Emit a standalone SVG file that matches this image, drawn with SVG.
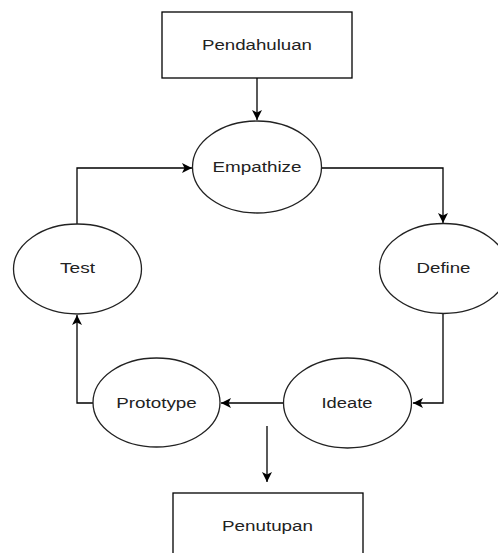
<svg xmlns="http://www.w3.org/2000/svg" width="498" height="553" viewBox="0 0 498 553">
<style>
.box{fill:#fff;stroke:#000;stroke-width:1.3}
.ell{fill:#fff;stroke:#222;stroke-width:1.3}
.lbl{font-family:"Liberation Sans",Arial,sans-serif;font-size:14px;fill:#222;text-anchor:middle}
.edge{fill:none;stroke:#000;stroke-width:1.3}
</style>
<defs>
<marker id="arr" viewBox="0 0 10 10" refX="10" refY="5" markerWidth="10" markerHeight="10" markerUnits="userSpaceOnUse" orient="auto">
<path d="M0,0 L10,5 L0,10 L2.5,5 Z" fill="#000"/>
</marker>
</defs>
<rect width="498" height="553" fill="#fff"/>
<g id="edges">
<path class="edge" d="M257,78 V120" marker-end="url(#arr)"/>
<path class="edge" d="M322,168 H443 V223" marker-end="url(#arr)"/>
<path class="edge" d="M443,313 V403 H413" marker-end="url(#arr)"/>
<path class="edge" d="M283,403 H221" marker-end="url(#arr)"/>
<path class="edge" d="M93,403 H77 V315" marker-end="url(#arr)"/>
<path class="edge" d="M77,224 V168 H192" marker-end="url(#arr)"/>
<path class="edge" d="M267,426 V482" marker-end="url(#arr)"/>
</g>
<g id="pendahuluan">
<rect class="box" x="162" y="12" width="190" height="66"/>
<text class="lbl" x="257" y="50" textLength="110" lengthAdjust="spacingAndGlyphs">Pendahuluan</text>
</g>
<g id="empathize">
<ellipse class="ell" cx="257" cy="167" rx="64.5" ry="46"/>
<text class="lbl" x="257" y="172" textLength="89" lengthAdjust="spacingAndGlyphs">Empathize</text>
</g>
<g id="define">
<ellipse class="ell" cx="443.5" cy="268.5" rx="64" ry="45"/>
<text class="lbl" x="443.5" y="273" textLength="54" lengthAdjust="spacingAndGlyphs">Define</text>
</g>
<g id="ideate">
<ellipse class="ell" cx="347.5" cy="403" rx="64" ry="45"/>
<text class="lbl" x="347" y="408" textLength="51" lengthAdjust="spacingAndGlyphs">Ideate</text>
</g>
<g id="prototype">
<ellipse class="ell" cx="156.5" cy="402.5" rx="63.5" ry="44.5"/>
<text class="lbl" x="156.5" y="408" textLength="80.5" lengthAdjust="spacingAndGlyphs">Prototype</text>
</g>
<g id="test">
<ellipse class="ell" cx="77.5" cy="269" rx="64" ry="45"/>
<text class="lbl" x="77.5" y="273" textLength="35" lengthAdjust="spacingAndGlyphs">Test</text>
</g>
<g id="penutupan">
<rect class="box" x="173" y="493" width="190" height="66"/>
<text class="lbl" x="267.5" y="531" textLength="91" lengthAdjust="spacingAndGlyphs">Penutupan</text>
</g>
</svg>
